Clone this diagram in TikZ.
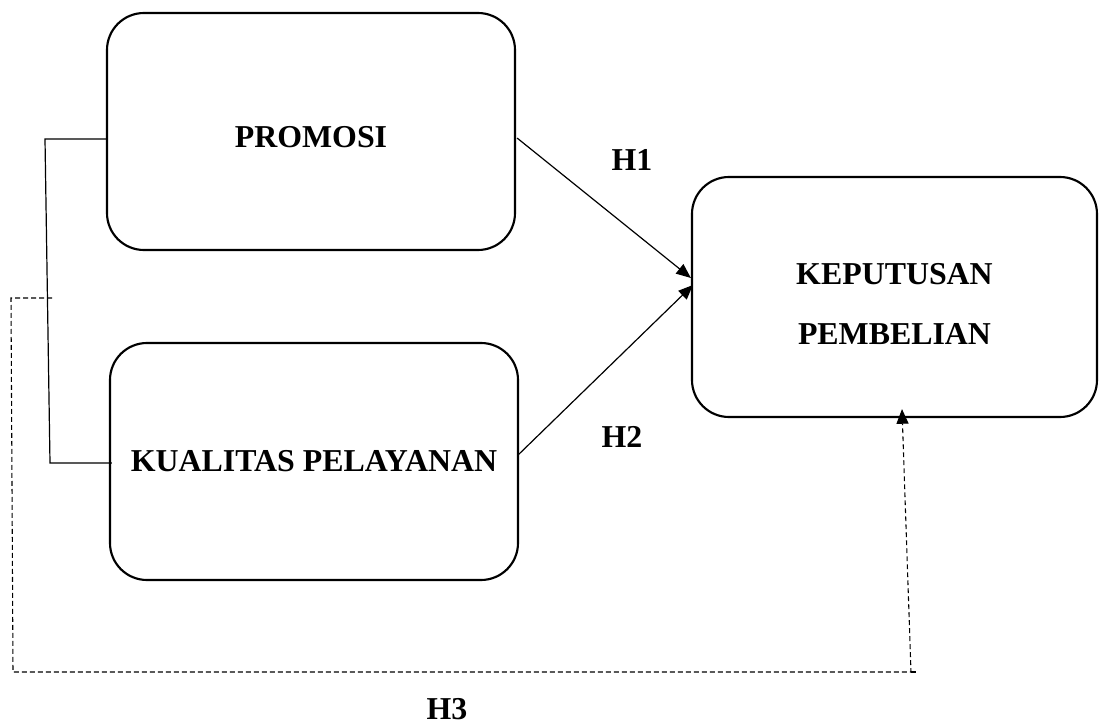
\documentclass[tikz,border=0pt]{standalone}
\usepackage{fontspec}
\setmainfont{Liberation Serif}
\usetikzlibrary{arrows.meta,calc}
\begin{document}
\begin{tikzpicture}[x=0.75pt,y=-0.75pt,
 box/.style={draw,line width=1.6pt,rounded corners=27.75pt,minimum width=306pt,minimum height=177.75pt,inner sep=0pt,font=\fontsize{23.9}{45}\selectfont\bfseries},
 conn/.style={line width=0.9pt},
 dsh/.style={line width=0.8pt,dash pattern=on 3.6pt off 2.4pt},
 tip/.style={-{Triangle[length=11pt,width=9pt]}},
 lbl/.style={font=\fontsize{23.9}{28}\selectfont\bfseries,inner sep=0pt}]
\useasboundingbox (0,0) rectangle (1101,724);
% boxes
\node[box] (promosi) at (311,131.5) {\raisebox{-12pt}[0pt][0pt]{PROMOSI}};
\node[box] (kualitas) at (314,461.5) {KUALITAS PELAYANAN};
\node[box,minimum width=303.75pt,minimum height=180pt] (kep) at (894.5,297)
  {\raisebox{0pt}[\dimexpr\height+7.5pt\relax][\depth]{\begin{tabular}{@{}c@{}}KEPUTUSAN\\PEMBELIAN\end{tabular}}};
% labels
\node[lbl] (h1) at (632,160) {H1};
\node[lbl] (h2) at (622,437) {H2};
\node[lbl] (h3) at (447,709) {H3};
% arrow targets
\coordinate (k1) at ($(kep.west)+(0,-19)$);
\coordinate (k2) at ($(kep.west)+(2,-12)$);
\coordinate (k3) at ($(kep.south)+(7.5,-9)$);
% H1, H2
\draw[conn,tip] ($(promosi.east)+(1,6.5)$) -- (k1);
\draw[conn,tip] ($(kualitas.east)+(-1,-6.5)$) -- (k2);
% bracket
\coordinate (b1) at ($(promosi.west)+(0,7.5)$);
\coordinate (b2) at (45,139);
\coordinate (b3) at (50,463);
\coordinate (b4) at ($(kualitas.west)+(3,1.5)$);
\draw[conn] (b1) -- (b2) -- (b3) -- (b4);
% H3 dashed
\coordinate (d0) at (52,298);
\coordinate (d1) at (11,298);
\coordinate (d2) at (13,672);
\coordinate (d3) at (911,672);
\draw[dsh] (d3) -- (918,672);
\draw[dsh,tip] (d0) -- (d1) -- (d2) -- (d3) -- (k3);
\end{tikzpicture}
\end{document}
